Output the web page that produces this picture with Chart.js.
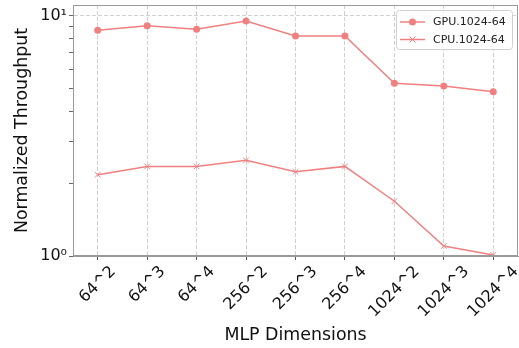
<!DOCTYPE html>
<html>
<head>
<meta charset="utf-8">
<script src="https://cdn.jsdelivr.net/npm/chart.js@4.4.0/dist/chart.umd.min.js"></script>
<style>
  html, body { margin: 0; padding: 0; background: #fff; }
</style>
</head>
<body>
<canvas id="line-chartcanvas" width="519" height="348"></canvas>
<script>
// values
var dims = ["64^2", "64^3", "64^4", "256^2", "256^3", "256^4", "1024^2", "1024^3", "1024^4"];
var gpuThroughput = [8.69, 9.09, 8.78, 9.5, 8.23, 8.23, 5.23, 5.1, 4.82];
var cpuThroughput = [2.18, 2.36, 2.36, 2.5, 2.24, 2.36, 1.69, 1.1, 1.01];
var yTicks = [1, 2, 3, 4, 5, 6, 7, 8, 9, 10];
var yTickLabels = { 1: "10\u2070", 10: "10\u00b9" };

var lineColor = "#f08080";
var spineColor = "#9a9a9a";
var gridColor = "rgba(170,170,170,0.55)";
var fontFamily = "'DejaVu Sans', sans-serif";

var framePlugin = {
  id: "frame",
  beforeDraw: function(chart) {
    // center the rotated tick labels under their ticks
    var xs = chart.scales.x;
    var ctx = chart.ctx;
    var items = xs.getLabelItems();
    items.forEach(function(item, i) {
      ctx.save();
      ctx.font = item.font.string;
      var w = ctx.measureText(item.label).width;
      ctx.restore();
      item.options.textAlign = "center";
      item.options.textBaseline = "middle";
      item.textOffset = 0;
      item.options.translation = [xs.getPixelForTick(i), xs.top + 13 + w / (2 * Math.SQRT2)];
    });
  },
  afterDraw: function(chart) {
    var a = chart.chartArea;
    var ctx = chart.ctx;
    ctx.save();
    ctx.strokeStyle = spineColor;
    ctx.lineWidth = 1;
    ctx.strokeRect(a.left + 0.5, a.top + 0.5, a.right - a.left - 1, a.bottom - a.top - 1);

    // legend box
    var bx = a.right - 122, by = a.top + 5, bw = 116, bh = 39;
    ctx.beginPath();
    ctx.roundRect(bx + 0.5, by + 0.5, bw, bh, 3);
    ctx.fillStyle = "rgba(255,255,255,0.85)";
    ctx.fill();
    ctx.strokeStyle = "#d0d0d0";
    ctx.stroke();

    ctx.font = "11px " + fontFamily;
    ctx.textBaseline = "middle";
    chart.data.datasets.forEach(function(ds, i) {
      var y = by + 12 + i * 17.5;
      ctx.strokeStyle = lineColor;
      ctx.lineWidth = 1.5;
      ctx.beginPath();
      ctx.moveTo(bx + 4, y);
      ctx.lineTo(bx + 29, y);
      ctx.stroke();
      var cx = bx + 16.5;
      if (ds.pointStyle === "circle") {
        ctx.beginPath();
        ctx.arc(cx, y, 3.5, 0, Math.PI * 2);
        ctx.fillStyle = lineColor;
        ctx.fill();
      } else {
        ctx.beginPath();
        ctx.moveTo(cx - 3, y - 3); ctx.lineTo(cx + 3, y + 3);
        ctx.moveTo(cx - 3, y + 3); ctx.lineTo(cx + 3, y - 3);
        ctx.lineWidth = 1;
        ctx.stroke();
      }
      ctx.fillStyle = "#222";
      ctx.fillText(ds.label, bx + 37, y + 0.5);
    });
    ctx.restore();
  }
};

var ctx = document.getElementById("line-chartcanvas");

var data = {
  labels: dims,
  datasets: [
    {
      label: "GPU.1024-64",
      data: gpuThroughput,
      borderColor: lineColor,
      backgroundColor: lineColor,
      borderWidth: 1.5,
      pointStyle: "circle",
      pointRadius: 3.5,
      pointBorderWidth: 0,
      fill: false,
      tension: 0
    },
    {
      label: "CPU.1024-64",
      data: cpuThroughput,
      borderColor: lineColor,
      backgroundColor: lineColor,
      borderWidth: 1.5,
      pointStyle: "crossRot",
      pointRadius: 4,
      pointBorderWidth: 1,
      fill: false,
      tension: 0
    }
  ]
};

var options = {
  responsive: false,
  animation: false,
  devicePixelRatio: 1,
  layout: { autoPadding: false, padding: { top: 5, right: 1, left: 0, bottom: 0 } },
  plugins: {
    legend: { display: false },
    tooltip: { enabled: false }
  },
  scales: {
    x: {
      type: "category",
      offset: true,
      afterFit: function(scale) {
        scale.height = 92;
        scale.paddingLeft = 0;
        scale.paddingRight = 0;
      },
      grid: {
        color: gridColor,
        tickColor: "#555",
        tickLength: 4,
        lineWidth: 1
      },
      border: { color: spineColor, dash: [4, 2] },
      ticks: {
        autoSkip: false,
        minRotation: 45,
        maxRotation: 45,
        padding: 4,
        color: "#111",
        font: { family: fontFamily, size: 16 }
      },
      title: {
        display: true,
        text: "MLP Dimensions",
        color: "#111",
        font: { family: fontFamily, size: 17.4 },
        padding: { top: 0, bottom: 2 }
      }
    },
    y: {
      type: "logarithmic",
      min: 1,
      max: 11.08,
      afterFit: function(scale) {
        scale.width = 73;
        scale.paddingTop = 0;
        scale.paddingBottom = 0;
      },
      afterBuildTicks: function(scale) {
        scale.ticks = yTicks.map(function(v) { return { value: v, major: v === 1 || v === 10 }; });
      },
      grid: {
        color: function(c) { return c.tick && c.tick.value === 10 ? gridColor : "rgba(0,0,0,0)"; },
        tickColor: "#666",
        tickLength: 4
      },
      border: { color: spineColor, dash: [4, 2] },
      ticks: {
        autoSkip: false,
        padding: 2,
        color: "#111",
        font: { family: fontFamily, size: 16 },
        callback: function(value) { return yTickLabels[value] || ""; }
      },
      title: {
        display: true,
        text: "Normalized Throughput",
        color: "#111",
        font: { family: fontFamily, size: 17.4 },
        padding: { top: 12, bottom: 0 }
      }
    }
  }
};

var chart = new Chart(ctx, {
  type: "line",
  data: data,
  options: options,
  plugins: [framePlugin]
});
</script>
</body>
</html>
